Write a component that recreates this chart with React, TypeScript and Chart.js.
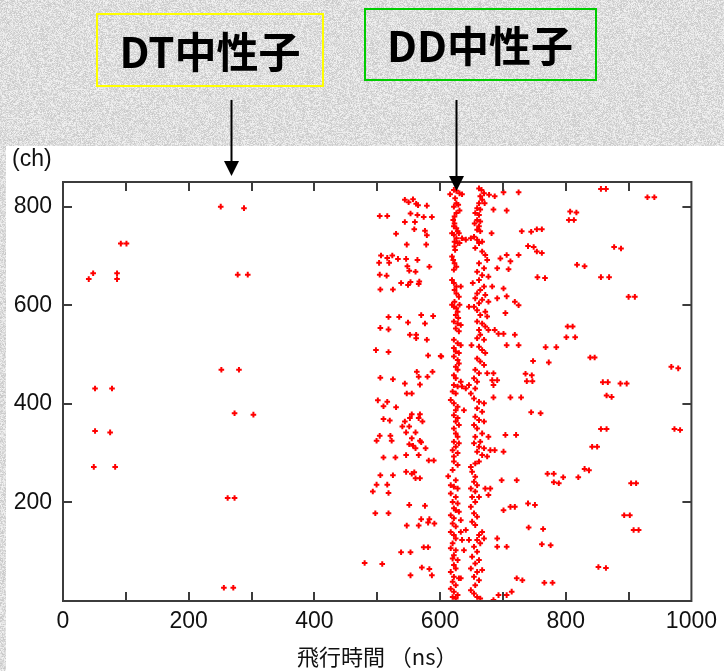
import React, { useEffect, useRef } from "react";
import { Chart, registerables } from "chart.js";

Chart.register(...registerables);

// ---- axis settings ----
const X_MIN = 0;
const X_MAX = 1000;
const X_STEP = 100;
const X_LABEL_STEP = 200;
const Y_MIN = 0;
const Y_MAX = 850;
const Y_STEP = 200;
const X_TITLE = "飛行時間 （ns）";
const Y_TITLE = "(ch)";

// ---- annotations ----
const DT_LABEL = "DT中性子";
const DD_LABEL = "DD中性子";
const DT_ARROW_X = 267;
const DD_ARROW_X = 625;

// ---- data: [time of flight (ns), channel] ----
const leftPoints: number[][] = [
  [251, 800], [288, 797], [92, 725], [101, 725], [48, 665], [41, 653], [86, 665], [86, 653],
  [278, 662], [294, 662], [252, 469], [280, 469], [51, 431], [78, 431], [273, 381], [303, 378],
  [51, 345], [75, 342], [49, 272], [83, 272], [262, 209], [273, 209], [256, 27], [271, 27],
];

const midPoints: number[][] = [
  [544, 814], [550, 809], [557, 815], [562, 806], [565, 803], [579, 802], [504, 781], [516, 781],
  [553, 786], [564, 783], [574, 779], [587, 779], [544, 769], [560, 769], [559, 754], [576, 751],
  [530, 745], [579, 742], [547, 723], [578, 723], [506, 701], [516, 696], [524, 701], [533, 694],
  [546, 694], [564, 692], [503, 686], [519, 686], [548, 679], [583, 678], [551, 670], [561, 668],
  [504, 662], [515, 660], [567, 648], [538, 645], [549, 641], [553, 647], [566, 643], [505, 632],
  [525, 632], [518, 576], [535, 576], [570, 580], [589, 578], [549, 565], [576, 563], [505, 554],
  [518, 551], [552, 540], [562, 540], [562, 533], [579, 530], [498, 509], [518, 505], [581, 498],
  [602, 496],
  [563, 465], [588, 465], [566, 455], [580, 455], [505, 453], [525, 450], [544, 441], [568, 439],
  [547, 421], [555, 421], [501, 407], [516, 404], [510, 395], [530, 393], [555, 379], [568, 379],
  [552, 371], [566, 371], [510, 369], [520, 366], [544, 364], [572, 364], [540, 354], [551, 354],
  [546, 342], [561, 342], [504, 335], [521, 335], [499, 325], [523, 325], [555, 330], [568, 325],
  [551, 318], [570, 322], [557, 315], [561, 310], [577, 310], [510, 291], [529, 291], [546, 296],
  [566, 296], [582, 285], [590, 285], [505, 255], [525, 255], [546, 262], [555, 258], [559, 261],
  [561, 249], [568, 249], [499, 236], [516, 236], [493, 222], [518, 219], [551, 195], [576, 193],
  [497, 178], [518, 178], [570, 166], [583, 166], [547, 153], [566, 153], [581, 159], [591, 157],
  [574, 109], [581, 109], [538, 99], [553, 99], [480, 77], [508, 75], [571, 68], [583, 65],
  [553, 52], [587, 52],
];

const ddBandPoints: number[][] = [
  [616, 825], [622, 834], [626, 832], [631, 827], [635, 825], [624, 817], [626, 807], [622, 800],
  [629, 804], [631, 792], [626, 787], [623, 780], [621, 773], [623, 766], [622, 760], [626, 756],
  [628, 750], [619, 746], [622, 743], [630, 746], [626, 736], [623, 729], [628, 726], [631, 726],
  [623, 719], [624, 712], [619, 699], [621, 692], [623, 685], [626, 678], [622, 672], [619, 651],
  [622, 645], [626, 638], [633, 638], [623, 631], [626, 624], [630, 617], [623, 607], [619, 601],
  [622, 597], [626, 594], [631, 601], [628, 587], [625, 580], [629, 574], [635, 736], [641, 733],
  [622, 567], [628, 563], [633, 560], [625, 553], [630, 547], [622, 530], [628, 523], [633, 519],
  [622, 513], [625, 506], [630, 503], [622, 496], [628, 489], [630, 482], [625, 475], [628, 469],
  [622, 458], [625, 452], [633, 445], [622, 438], [628, 435], [635, 435], [641, 431], [620, 425],
  [625, 421], [617, 408], [622, 401], [628, 394], [625, 387], [638, 387], [622, 377], [628, 371],
  [625, 364], [630, 357], [622, 350], [625, 340], [628, 333], [622, 323], [630, 320], [625, 313],
  [620, 306], [628, 300], [622, 293], [601, 497],
  [622, 283], [628, 276], [620, 266], [613, 253], [625, 245], [617, 235], [622, 232], [628, 228],
  [617, 218], [625, 211], [620, 201], [628, 198], [622, 188], [625, 184], [630, 181], [617, 174],
  [622, 168], [633, 164], [620, 157], [625, 151], [617, 140], [622, 134], [625, 127], [620, 117],
  [617, 107], [625, 103], [622, 93], [620, 86], [628, 83], [622, 73], [625, 66], [617, 59],
  [622, 49], [630, 46], [620, 39], [625, 32], [617, 25], [622, 19], [628, 12], [620, 8],
  [625, 5], [633, 140], [641, 144], [635, 124], [646, 124], [638, 103], [633, 46],
];

const secondBandPoints: number[][] = [
  [662, 837], [666, 834], [670, 827], [664, 821], [667, 814], [662, 807], [671, 807], [659, 797],
  [664, 794], [656, 787], [662, 783], [659, 773], [664, 770], [655, 766], [662, 760], [659, 753],
  [664, 750], [654, 739], [649, 736], [659, 733], [662, 726], [667, 729], [656, 716], [667, 709],
  [672, 702], [662, 685], [670, 675], [659, 668], [667, 661], [662, 651], [652, 645], [670, 638],
  [664, 631], [659, 624], [672, 621], [656, 614], [667, 611], [662, 604], [646, 597], [654, 597],
  [659, 590], [672, 587], [664, 580], [675, 577],
  [659, 567], [667, 563], [672, 557], [662, 550], [664, 540], [659, 533], [670, 530], [650, 519],
  [662, 516], [667, 509], [672, 503], [659, 492], [664, 486], [670, 479], [656, 469], [662, 462],
  [675, 462], [654, 452], [659, 445], [646, 438], [656, 431], [649, 421], [654, 411], [662, 404],
  [670, 401], [659, 391], [667, 384], [656, 374], [662, 367], [670, 364], [654, 357], [659, 350],
  [667, 340], [656, 333], [677, 333], [664, 323], [654, 320], [662, 313], [670, 310], [659, 303],
  [667, 296], [675, 293],
  [649, 272], [656, 279], [662, 283], [651, 262], [656, 252], [654, 242], [659, 235], [649, 228],
  [656, 222], [651, 211], [662, 211], [656, 201], [649, 191], [654, 178], [659, 171], [651, 161],
  [656, 154], [667, 140], [662, 134], [670, 127], [659, 124], [664, 117], [654, 110], [659, 100],
  [651, 90], [662, 83], [656, 76], [649, 66], [659, 59], [667, 63], [654, 49], [662, 42],
  [656, 32], [649, 22], [654, 15], [659, 8], [664, 5],
];

const rightPoints: number[][] = [
  [678, 824], [687, 821], [701, 829], [725, 829], [685, 794], [706, 792], [682, 746], [730, 750],
  [706, 702], [725, 702], [675, 692], [696, 695], [712, 689], [691, 675], [709, 673], [677, 658],
  [683, 638], [701, 634], [691, 614], [706, 618], [719, 607], [677, 607], [704, 584], [725, 600],
  [677, 550], [687, 550], [693, 542], [701, 542], [719, 540], [706, 519], [725, 519], [685, 462],
  [683, 448], [691, 448], [685, 438], [712, 413], [729, 413], [685, 413], [704, 337], [721, 337],
  [680, 306], [687, 306], [701, 303],
  [672, 228], [680, 228], [677, 215], [698, 245], [722, 245], [701, 184], [712, 191], [719, 191],
  [691, 127], [691, 110], [706, 110], [722, 46], [731, 42], [693, 12], [685, 2], [706, 12],
  [714, 19],
];

const farRightPoints: number[][] = [
  [856, 836], [864, 836], [930, 819], [941, 819], [807, 790], [817, 788], [805, 773], [813, 773],
  [745, 749], [754, 754], [762, 754], [740, 720], [749, 718], [754, 709], [762, 706], [877, 718],
  [888, 715], [818, 682], [830, 679], [755, 657], [767, 655], [856, 657], [869, 657], [900, 617],
  [910, 617], [803, 557], [811, 557], [801, 535], [815, 535], [768, 515], [785, 515], [839, 494],
  [846, 494], [748, 487], [773, 484], [968, 475], [979, 472], [736, 461], [746, 458], [738, 446],
  [747, 446], [859, 444], [867, 444], [887, 441], [897, 441], [865, 417], [873, 414], [745, 383],
  [760, 381], [856, 349], [865, 349], [973, 349], [982, 347], [842, 313], [850, 313], [771, 258],
  [781, 258], [781, 241], [789, 239], [796, 251], [820, 251], [830, 268], [837, 265], [904, 239],
  [912, 239], [740, 198], [751, 195], [893, 174], [902, 174], [908, 144], [916, 144], [741, 149],
  [764, 146], [762, 115], [776, 113], [852, 69], [864, 67], [766, 37], [779, 37],
];

const TICK_FONT = '"Liberation Sans", Arial, sans-serif';
const CJK_FONT = '"Noto Sans CJK JP", "Noto Sans", sans-serif';

const toXY = (arr: number[][]) => arr.map(([x, y]) => ({ x, y }));

// deterministic paper-like speckle texture for the grey backdrop (decoration only)
function paintTexture(ctx: CanvasRenderingContext2D, W: number, H: number) {
  const img = ctx.createImageData(W, H);
  let s = 12345;
  for (let i = 0; i < W * H; i++) {
    s = (s * 1103515245 + 12345) & 0x7fffffff;
    const r = (s >> 8) & 255;
    const v = 200 + Math.floor((r / 255) * 44);
    img.data[i * 4] = v;
    img.data[i * 4 + 1] = v;
    img.data[i * 4 + 2] = v;
    img.data[i * 4 + 3] = 255;
  }
  ctx.putImageData(img, 0, 0);
}

const decorPlugin = {
  id: "decor",
  beforeDraw(chart: any) {
    const ctx = chart.ctx;
    const W = chart.width;
    const H = chart.height;
    ctx.save();
    paintTexture(ctx, W, H);
    ctx.fillStyle = "#ffffff";
    ctx.fillRect(6, 146, W - 6, H - 146);
    ctx.restore();
  },
  afterDraw(chart: any) {
    const ctx = chart.ctx;
    const a = chart.chartArea;
    const xs = chart.scales.x;
    const ys = chart.scales.y;
    ctx.save();
    // frame
    ctx.strokeStyle = "#3c3c3c";
    ctx.lineWidth = 2;
    ctx.strokeRect(a.left, a.top, a.right - a.left, a.bottom - a.top);
    // inward ticks
    const TL = 9;
    ctx.beginPath();
    xs.ticks.forEach((t: any) => {
      if (t.value <= X_MIN || t.value >= X_MAX) return;
      const px = Math.round(xs.getPixelForValue(t.value));
      ctx.moveTo(px, a.bottom);
      ctx.lineTo(px, a.bottom - TL);
      ctx.moveTo(px, a.top);
      ctx.lineTo(px, a.top + TL);
    });
    ys.ticks.forEach((t: any) => {
      if (t.value <= Y_MIN || t.value >= Y_MAX) return;
      const py = Math.round(ys.getPixelForValue(t.value));
      ctx.moveTo(a.left, py);
      ctx.lineTo(a.left + TL, py);
      ctx.moveTo(a.right, py);
      ctx.lineTo(a.right - TL, py);
    });
    ctx.stroke();

    // axis titles
    ctx.fillStyle = "#111";
    ctx.font = `23px ${TICK_FONT}`;
    ctx.textAlign = "left";
    ctx.textBaseline = "middle";
    ctx.fillText(Y_TITLE, 12, 160);
    ctx.font = `22px ${CJK_FONT}`;
    ctx.textAlign = "center";
    ctx.fillText(X_TITLE, (a.left + a.right) / 2, 657);

    // label boxes
    ctx.lineWidth = 2;
    ctx.strokeStyle = "#ffff00";
    ctx.strokeRect(97, 14, 226, 72);
    ctx.strokeStyle = "#00cc00";
    ctx.strokeRect(365, 9, 231, 71);
    ctx.fillStyle = "#000";
    ctx.font = `bold 42px ${CJK_FONT}`;
    ctx.textAlign = "center";
    ctx.textBaseline = "middle";
    ctx.fillText(DT_LABEL, 210, 52);
    ctx.fillText(DD_LABEL, 480, 46);

    // arrows
    const drawArrow = (xv: number, y0: number, tip: number) => {
      const px = Math.round(xs.getPixelForValue(xv)) + 0.5;
      ctx.strokeStyle = "#000";
      ctx.lineWidth = 2;
      ctx.beginPath();
      ctx.moveTo(px, y0);
      ctx.lineTo(px, tip - 12);
      ctx.stroke();
      ctx.fillStyle = "#000";
      ctx.beginPath();
      ctx.moveTo(px - 7.5, tip - 15);
      ctx.lineTo(px + 7.5, tip - 15);
      ctx.lineTo(px, tip);
      ctx.closePath();
      ctx.fill();
    };
    drawArrow(DT_ARROW_X, 100, 176);
    drawArrow(DD_ARROW_X, 100, 191);
    ctx.restore();
  },
};

export default function App() {
  const ref = useRef<HTMLCanvasElement | null>(null);
  useEffect(() => {
    if (!ref.current) return;
    const all = [
      ...leftPoints,
      ...midPoints,
      ...ddBandPoints,
      ...secondBandPoints,
      ...rightPoints,
      ...farRightPoints,
    ];
    const chart = new Chart(ref.current, {
      type: "scatter",
      data: {
        datasets: [
          {
            data: toXY(all),
            pointStyle: "cross",
            pointRadius: 2.8,
            pointBorderWidth: 2,
            borderColor: "#ff0000",
            backgroundColor: "#ff0000",
            pointHoverRadius: 2.8,
          } as any,
        ],
      },
      options: {
        animation: false,
        responsive: false,
        devicePixelRatio: 1,
        events: [],
        layout: { padding: { left: 0, top: 182, right: 25, bottom: 0 } },
        plugins: {
          legend: { display: false },
          tooltip: { enabled: false },
          title: { display: false },
        },
        scales: {
          x: {
            type: "linear",
            min: X_MIN,
            max: X_MAX,
            grid: { display: false, drawTicks: false },
            border: { display: false },
            ticks: {
              stepSize: X_STEP,
              autoSkip: false,
              maxRotation: 0,
              padding: 7,
              color: "#111",
              font: { family: TICK_FONT, size: 23 },
              callback: (v: any) => (Number(v) % X_LABEL_STEP === 0 ? String(v) : ""),
            },
            afterFit: (s: any) => {
              s.height = 70;
            },
          },
          y: {
            type: "linear",
            min: Y_MIN,
            max: Y_MAX,
            grid: { display: false, drawTicks: false },
            border: { display: false },
            ticks: {
              stepSize: Y_STEP,
              includeBounds: false,
              padding: 11,
              color: "#111",
              font: { family: TICK_FONT, size: 23 },
              callback: (v: any) => (Number(v) === 0 ? "" : String(v)),
            },
            afterFit: (s: any) => {
              s.width = 63;
            },
          },
        },
      } as any,
      plugins: [decorPlugin],
    });
    return () => chart.destroy();
  }, []);
  return (
    <div style={{ position: "absolute", left: 0, top: 0, width: 724, height: 671 }}>
      <canvas ref={ref} width={724} height={671} style={{ display: "block", width: 724, height: 671 }} />
    </div>
  );
}
